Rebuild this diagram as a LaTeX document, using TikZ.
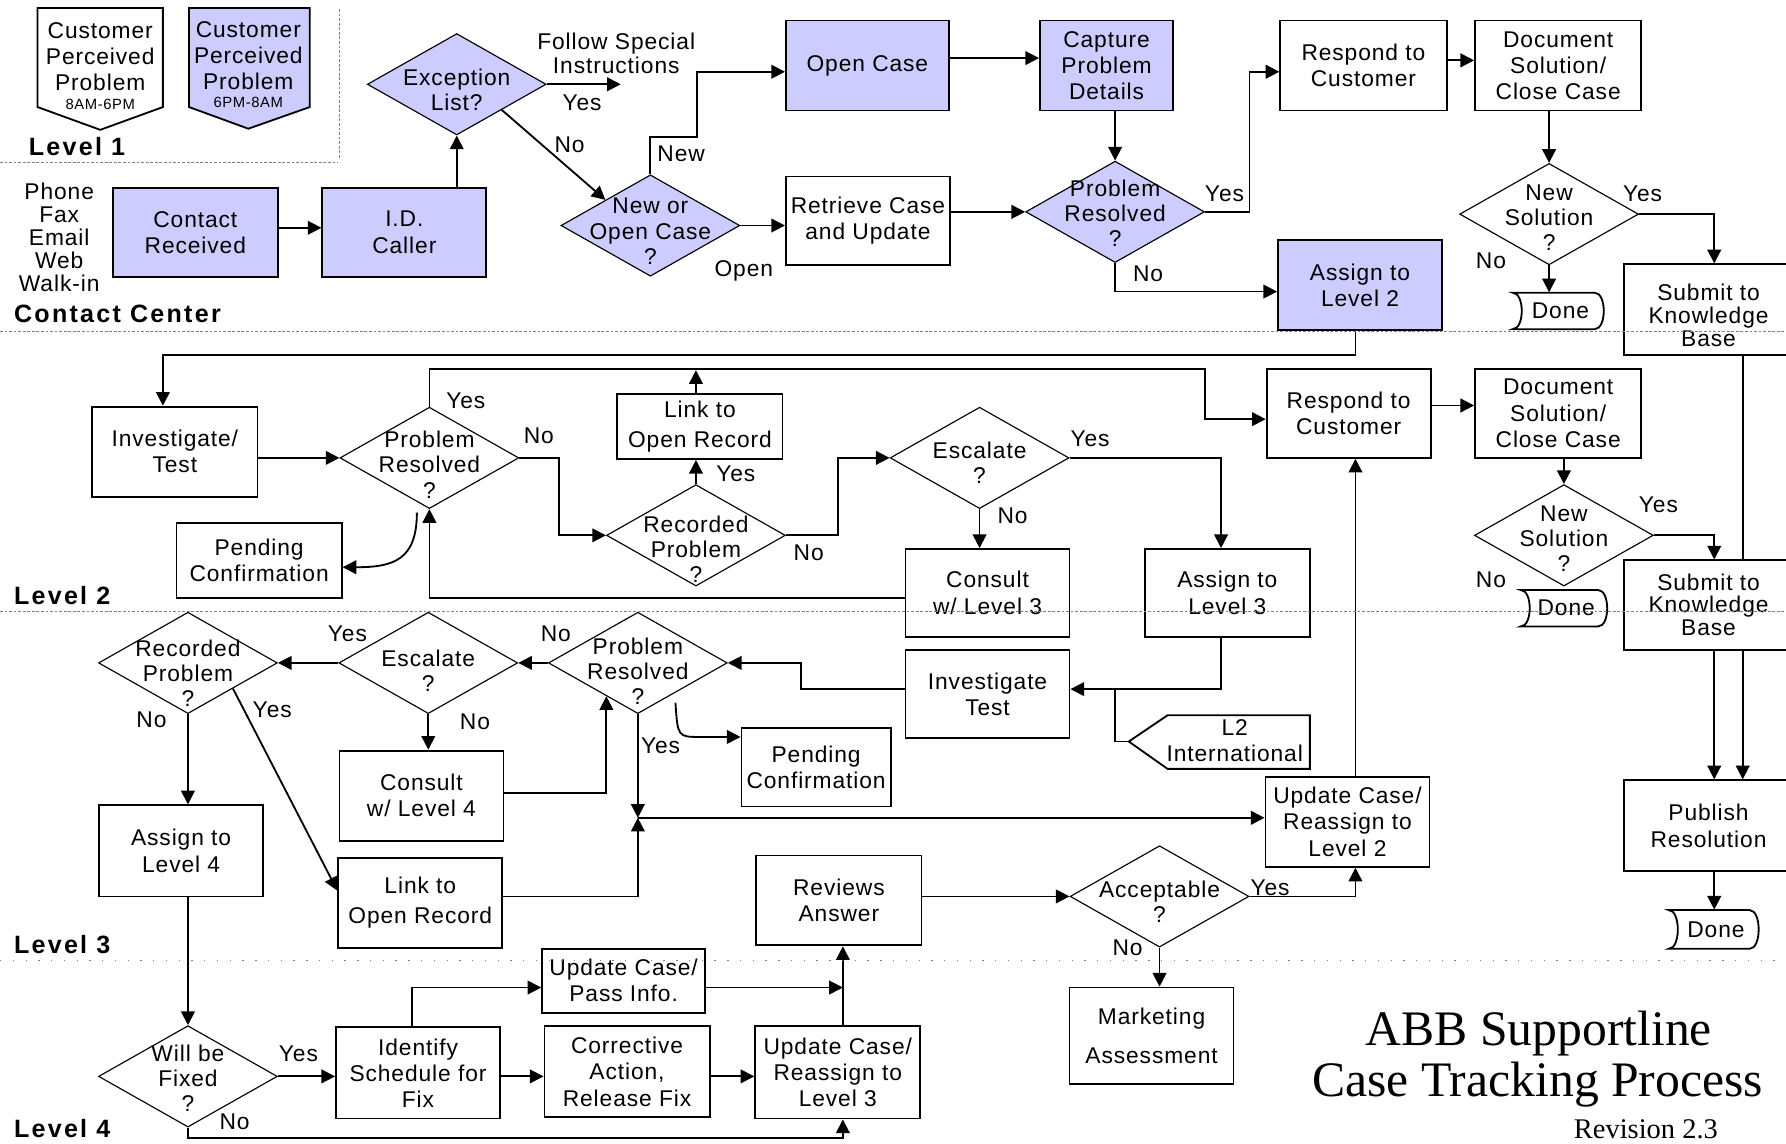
\documentclass[tikz,border=0pt]{standalone}
\usepackage{fontspec}
\setmainfont{Liberation Sans}[LetterSpace=4]
\newfontfamily\headfont{Liberation Sans}[LetterSpace=9]
\newfontfamily\titlefont{Liberation Serif}
\usetikzlibrary{arrows.meta,shapes.geometric,calc}
\definecolor{lav}{RGB}{204,204,255}

\tikzset{
  txt/.style={font=\fontsize{10}{11.5}\selectfont},
  box/.style={draw, line width=0.8pt, rectangle, inner sep=0pt, align=center, txt},
  fbox/.style={box, fill=lav},
  dia/.style={draw, line width=0.5pt, diamond, inner sep=0pt, minimum width=78.5pt, minimum height=44.5pt},
  fdia/.style={dia, fill=lav},
  dtxt/.style={align=center, inner sep=0pt, font=\fontsize{10}{11}\selectfont},
  arr/.style={line width=0.8pt, -{Triangle[length=6pt,width=6pt]}},
  conn/.style={line width=0.8pt},
  lbl/.style={inner sep=0pt, txt},
  lane/.style={line width=0.5pt, gray, dash pattern=on 1.2pt off 0.8pt},
  sparse/.style={line width=0.6pt, gray, dash pattern=on 0.6pt off 5pt},
  head/.style={anchor=west, inner sep=0pt, font={\headfont\fontsize{11}{13}\bfseries}},
  outline/.style={line width=0.8pt},
  kbtxt/.style={align=center, inner sep=0pt, font=\fontsize{10}{10}\selectfont},
}

% box from corner (x1,y1) to (x2,y2): [style]{x1}{y1}{x2}{y2}{name}{text}
\newcommand\bx[7][box]{\node[#1, minimum width={(#4-#2)*0.5pt}, minimum height={(#5-#3)*0.5pt}] (#6) at ({(#2+#4)/2},{(#3+#5)/2}) {#7};}
% decision: [style]{name}{x}{y}{text offset}{text}
\newcommand\dm[6][dia]{\node[#1] (#2) at (#3,#4) {}; \node[dtxt] (#2t) at (#3,{#4+#5}) {#6};}
% terminator "Done": {name}{x0}{y0}{x1}{y1}
\newcommand\doneshape[5]{%
  \draw[outline] (#2,#3) -- ({#4-8},#3) .. controls ({#4+8/3},#3) and ({#4+8/3},#5) .. ({#4-8},#5)
     -- (#2,#5) .. controls ({#2+32/3},#5) and ({#2+32/3},#3) .. (#2,#3) -- cycle;
  \node[lbl, minimum width={(#4-#2)*0.5pt}, minimum height={(#5-#3)*0.5pt}] (#1) at ({(#2+#4)/2+2},{(#3+#5)/2}) {Done};}
\newcommand\lab[4]{\node[lbl] (#1) at (#2,#3) {#4};}

\begin{document}
\begin{tikzpicture}[x=0.5pt,y=-0.5pt]
\useasboundingbox (0,0) rectangle (1568,1004);
\clip (0,0) rectangle (1568,1004);
\fill[white] (0,0) rectangle (1568,1004);

% ---------- Level 1 ----------
\draw[outline] (33,7) -- (143,7) -- (143,94) -- (88,114) -- (33,94) -- cycle;
\node[dtxt, txt] (cpp1) at (88,50) {Customer\\Perceived\\Problem};
\node[inner sep=0pt, font=\fontsize{6.5}{7}\selectfont] (cpp1h) at (88,92) {8AM-6PM};
\draw[outline, fill=lav] (166,7) -- (272,7) -- (272,94) -- (218,113) -- (166,94) -- cycle;
\node[dtxt, txt] (cpp2) at (218,49) {Customer\\Perceived\\Problem};
\node[inner sep=0pt, font=\fontsize{6.5}{7}\selectfont] (cpp2h) at (218,90) {6PM-8AM};
\node[head] (hl1) at (25,129) {Level 1};

% ---------- Contact Center ----------
\node[align=center, inner sep=0pt, font=\fontsize{10}{10.1}\selectfont] (media) at (52,208) {Phone\\Fax\\Email\\Web\\Walk-in};
\bx[fbox]{99}{165}{244}{243}{contact}{Contact\\Received}
\bx[fbox]{283}{165}{427}{243}{idc}{I.D.\\Caller}
\dm[fdia]{exc}{401}{74}{5}{Exception\\List?}
\dm[fdia]{newopen}{571}{198}{5}{New or\\Open Case\\?}
\bx[fbox]{690}{18}{833}{97}{opencase}{Open Case}
\bx[fbox]{913}{18}{1030}{97}{capture}{Capture\\Problem\\Details}
\bx{690}{155}{834}{233}{retrieve}{Retrieve Case\\and Update}
\dm[fdia]{pr1}{979}{186}{1}{Problem\\Resolved\\?}
\bx{1124}{18}{1270}{97}{resp1}{Respond to\\Customer}
\bx{1295}{18}{1441}{97}{doc1}{Document\\Solution/\\Close Case}
\dm{ns1}{1360}{188}{3}{New\\Solution\\?}
\bx[fbox]{1122}{211}{1266}{290}{assign2}{Assign to\\Level 2}
\doneshape{done1}{1328}{257}{1408}{289}
\bx{1426}{232}{1574}{312}{submit1}{}
\node[kbtxt] (submit1t) at (1500,277) {Submit to\\Knowledge\\Base};
\node[head] (hcc) at (12,276) {Contact Center};
\node[align=center, inner sep=0pt, font=\fontsize{10}{9}\selectfont] (fsi-t) at (541,47) {Follow Special\\Instructions};

% ---------- Level 2 ----------
\bx{81}{357}{226}{436}{inv2}{Investigate/\\Test}
\dm{pr2}{377}{402}{6}{Problem\\Resolved\\?}
\bx{155}{459}{300}{525}{pend2}{Pending\\Confirmation}
\bx[box, font=\fontsize{10}{13.5}\selectfont]{542}{346}{687}{403}{link2}{Link to\\Open Record}
\dm{rp2}{611}{470}{12}{Recorded\\Problem\\?}
\dm{esc2}{860}{402}{4}{Escalate\\?}
\bx{795}{482}{939}{559}{cons3}{Consult\\w/ Level 3}
\bx{1005}{482}{1150}{559}{asg3}{Assign to\\Level 3}
\bx{1112}{324}{1256}{402}{resp2}{Respond to\\Customer}
\bx{1295}{324}{1441}{402}{doc2}{Document\\Solution/\\Close Case}
\dm{ns2}{1373}{470}{3}{New\\Solution\\?}
\doneshape{done2}{1335}{518}{1411}{550}
\bx{1426}{492}{1574}{571}{submit2}{}
\node[kbtxt] (submit2t) at (1500,531) {Submit to\\Knowledge\\Base};
\node[head] (hl2) at (12,523) {Level 2};

% ---------- Level 3 ----------
\dm{rp3}{165}{582}{9}{Recorded\\Problem\\?}
\dm{esc3}{376}{582}{7}{Escalate\\?}
\dm{pr3}{560}{582}{7}{Problem\\Resolved\\?}
\bx{795}{571}{939}{648}{inv3}{Investigate\\Test}
\draw[outline] (991,651) -- (1025,628) -- (1150,628) -- (1150,675) -- (1025,675) -- cycle;
\node[dtxt, txt] (l2intt) at (1084,650) {L2\\International};
\coordinate (l2int) at (991,651);
\bx{298}{659}{442}{738}{cons4}{Consult\\w/ Level 4}
\bx[box, font=\fontsize{10}{13}\selectfont]{297}{753}{441}{832}{link3}{Link to\\Open Record}
\bx{651}{639}{782}{708}{pend3}{Pending\\Confirmation}
\bx{1111}{682}{1255}{761}{upd2}{Update Case/\\Reassign to\\Level 2}
\bx{664}{751}{809}{830}{reviews}{Reviews\\Answer}
\dm{acc}{1018}{787}{5}{Acceptable\\?}
\bx{87}{707}{231}{787}{asg4}{Assign to\\Level 4}
\bx{1426}{685}{1574}{765}{publish}{Publish\\Resolution}
\doneshape{done3}{1465}{799}{1544}{833}
\node[head] (hl3) at (12,829) {Level 3};

% ---------- Level 4 ----------
\dm{wbf}{165}{945}{2}{Will be\\Fixed\\?}
\bx{295}{902}{439}{982}{identify}{Identify\\Schedule for\\Fix}
\bx{476}{833}{619}{889}{passinfo}{Update Case/\\Pass Info.}
\bx{478}{901}{623}{981}{corrective}{Corrective\\Action,\\Release Fix}
\bx{663}{901}{808}{982}{upd3}{Update Case/\\Reassign to\\Level 3}
\bx[box, font=\fontsize{10}{17}\selectfont]{939}{867}{1083}{952}{marketing}{Marketing\\Assessment}
\node[head] (hl4) at (12,991) {Level 4};

% ---------- title ----------
\node[inner sep=0pt, font={\titlefont\fontsize{21.8}{24}\selectfont}] (title1) at (1351,907) {ABB Supportline};
\node[inner sep=0pt, font={\titlefont\fontsize{21.8}{24}\selectfont}] (title2) at (1350,952) {Case Tracking Process};
\node[inner sep=0pt, font={\titlefont\fontsize{12.5}{14}\selectfont}] (title3) at (1445,991) {Revision 2.3};

% ---------- connectors: contact center ----------
\draw[arr] (contact.east |- 0,200) -- (idc.west |- 0,200);
\draw[arr] (idc.north -| exc.south) -- (exc.south);
\coordinate (fsi) at (545,74);
\draw[arr] (exc.east) -- (fsi);
\draw[arr] (exc.south east) -- (newopen.north west);
\draw[arr] (newopen.north) |- (612,120) |- (opencase.west |- 0,63);
\draw[arr] (opencase.east |- 0,51) -- (capture.west |- 0,51);
\draw[arr] (capture.south -| pr1.north) -- (pr1.north);
\draw[arr] (newopen.east) -- (newopen.east -| retrieve.west);
\draw[arr] (retrieve.east |- pr1.west) -- (pr1.west);
\draw[arr] (pr1.east) -- (1097,186) |- (resp1.west |- 0,63);
\draw[arr] (pr1.south) |- (assign2.west |- 0,256);
\draw[arr] (resp1.east |- 0,53) -- (doc1.west |- 0,53);
\draw[arr] (doc1.south -| ns1.north) -- (ns1.north);
\draw[arr] (ns1.east) -| (submit1.north -| 1505,0);
\draw[arr] (ns1.south) -- (ns1.south |- done1.north);

% ---------- connectors: level 2 ----------
\draw[arr] (assign2.south -| 1190,0) |- (143,312) -- (inv2.north -| 143,0);
\draw[arr] (inv2.east |- pr2.west) -- (pr2.west);
\draw[arr] (pr2.north) |- (1058,324) |- (resp2.west |- 0,368);
\draw[arr] (pr2.east) -- (491,402) |- (rp2.west);
\coordinate (pr2c) at (366,450);
\draw[arr] (pr2c) .. controls (366,492) and (345,498) .. (pend2.east |- 0,498);
\draw[arr] (cons3.west |- 0,525) -| (pr2.south);
\draw[arr] (rp2.north) -- (rp2.north |- link2.south);
\draw[arr] (link2.north -| rp2.north) -- (rp2.north |- 0,325);
\draw[arr] (rp2.east) -- (736,470) |- (esc2.west);
\draw[arr] (esc2.south) -- (esc2.south |- cons3.north);
\draw[arr] (esc2.east) -| (asg3.north -| 1072,0);
\draw[arr] (resp2.east |- 0,356) -- (doc2.west |- 0,356);
\draw[arr] (doc2.south -| ns2.north) -- (ns2.north);
\draw[arr] (ns2.east) -| (submit2.north -| 1505,0);
% the top knowledge-base line runs behind the lower knowledge-base box
\draw[conn] (submit1.south -| 1530,0) -- (submit2.north -| 1530,0);
\draw[arr] (submit2.south -| 1530,0) -- (publish.north -| 1530,0);
\draw[arr] (submit2.south -| 1505,0) -- (publish.north -| 1505,0);
\draw[arr] (publish.south -| 1505,0) -- (done3.north -| 1505,0);

% ---------- connectors: level 3 ----------
\draw[arr] (asg3.south -| 1072,0) |- (inv3.east |- 0,605);
\draw[conn] (l2int) -| (979,605);
\draw[arr] (inv3.west |- 0,605) -| (703,582) -- (pr3.east);
\draw[arr] (pr3.west) -- (esc3.east);
\draw[arr] (esc3.west) -- (rp3.east);
\draw[arr] (esc3.south) -- (esc3.south |- cons4.north);
\draw[arr] (cons4.east |- 0,696) -| ($(pr3.south)!0.35!(pr3.west)$);
\coordinate (mrg) at (pr3.south |- 0,718);
\draw[arr] (pr3.south) -- (mrg);
\draw[arr] (link3.east |- 0,787) -| (mrg);
\draw[arr] (mrg) -- (mrg -| upd2.west);
\coordinate (pr3c) at (593,617);
\draw[arr] (pr3c) .. controls (595,647) .. (615,647) -- (pend3.west |- 0,647);
\draw[arr] (upd2.north -| 1190,0) -- (resp2.south -| 1190,0);
\draw[arr] (acc.east) -| (upd2.south -| 1190,0);
\draw[arr] (acc.south) -- (acc.south |- marketing.north);
\draw[arr] (reviews.east |- acc.west) -- (acc.west);
\draw[arr] (rp3.south) -- (rp3.south |- asg4.north);
\draw[arr] (rp3.south east) -- (link3.west |- 0,782);
\draw[arr] (asg4.south -| wbf.north) -- (wbf.north);

% ---------- connectors: level 4 ----------
\draw[arr] (wbf.east) -- (wbf.east -| identify.west);
\draw[arr] (identify.east |- 0,945) -- (corrective.west |- 0,945);
\draw[arr] (identify.north -| 362,0) |- (passinfo.west |- 0,867);
\draw[arr] (passinfo.east |- 0,867) -- (740,867);
\draw[arr] (corrective.east |- 0,945) -- (upd3.west |- 0,945);
\draw[arr] (upd3.north -| 740,0) -- (reviews.south -| 740,0);
\draw[arr] (wbf.south) |- (740,999) -- (upd3.south -| 740,0);

% ---------- branch labels ----------
\lab{y1}{511}{90}{Yes}
\lab{n1}{500}{127}{No}
\lab{lnew}{598}{135}{New}
\lab{lopen}{653}{238}{Open}
\lab{y2}{1075}{170}{Yes}
\lab{n2}{1008}{240}{No}
\lab{y3}{1442}{170}{Yes}
\lab{n3}{1309}{229}{No}
\lab{y4}{409}{352}{Yes}
\lab{n4}{473}{383}{No}
\lab{y5}{646}{416}{Yes}
\lab{n5}{710}{485}{No}
\lab{y6}{957}{385}{Yes}
\lab{n6}{889}{453}{No}
\lab{y7}{1456}{443}{Yes}
\lab{n7}{1309}{509}{No}
\lab{y8}{305}{556}{Yes}
\lab{n8}{488}{556}{No}
\lab{n9}{417}{634}{No}
\lab{n10}{133}{632}{No}
\lab{y9}{239}{623}{Yes}
\lab{y10}{580}{655}{Yes}
\lab{y11}{1115}{779}{Yes}
\lab{n11}{990}{832}{No}
\lab{y12}{262}{925}{Yes}
\lab{n12}{206}{985}{No}

% ---------- lane separators ----------
\draw[lane] (0,143) -- (297,143);
\draw[lane] (298,8) -- (298,140);
\draw[lane] (0,291) -- (1568,291);
\draw[lane] (0,537) -- (1568,537);
\draw[sparse] (0,843) -- (1568,843);
\end{tikzpicture}
\end{document}
